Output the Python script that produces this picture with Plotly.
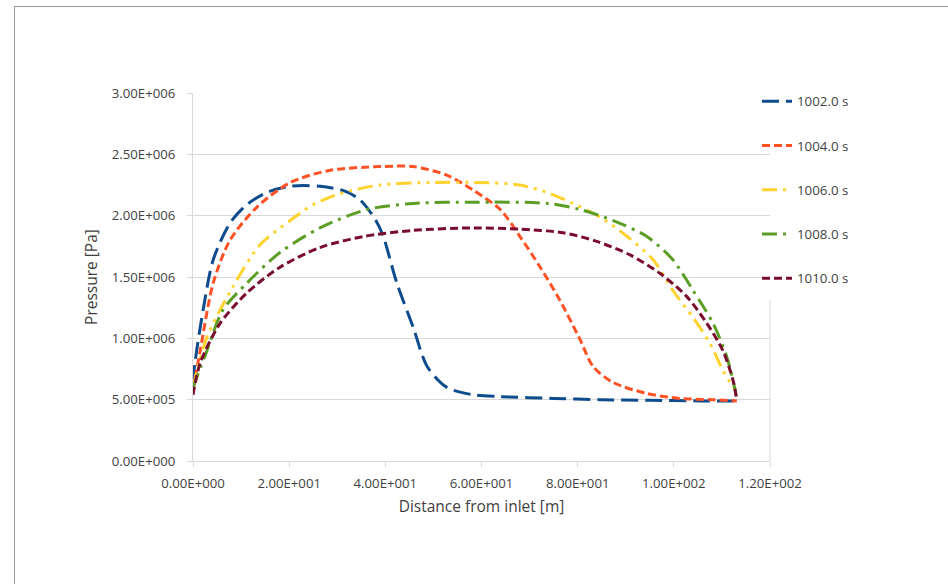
import plotly.graph_objects as go

# ---- data ----
series_names = ["1002.0 s", "1004.0 s", "1006.0 s", "1008.0 s", "1010.0 s"]

x_1002 = [0, 0.4, 2.1, 4.2, 7.7, 11.2, 15.4, 20.2, 26.4, 31.6, 34.7, 37.9, 39.5, 42.4, 45.8, 48.7, 52.8, 58.2, 63.9, 75, 84.7, 95, 105.4, 113.1]
y_1002 = [0.64e6, 0.80e6, 1.23e6, 1.64e6, 1.94e6, 2.09e6, 2.19e6, 2.24e6, 2.24e6, 2.20e6, 2.13e6, 1.97e6, 1.84e6, 1.45e6, 1.09e6, 0.77e6, 0.60e6, 0.54e6, 0.525e6, 0.51e6, 0.50e6, 0.495e6, 0.49e6, 0.49e6]

x_1004 = [0, 1.5, 4.2, 7.7, 13.3, 20.2, 28.5, 38.9, 45.8, 52.8, 58.2, 63.9, 68, 72.2, 76.3, 80.5, 83.2, 87.4, 94.4, 101.3, 108.2, 113.1]
y_1004 = [0.58e6, 0.90e6, 1.45e6, 1.80e6, 2.07e6, 2.27e6, 2.37e6, 2.40e6, 2.40e6, 2.33e6, 2.21e6, 2.05e6, 1.83e6, 1.58e6, 1.31e6, 0.99e6, 0.77e6, 0.64e6, 0.55e6, 0.51e6, 0.50e6, 0.49e6]

x_1006 = [0, 2.9, 8.3, 13.9, 20.2, 25, 30.6, 38.9, 49.3, 59.7, 68, 73.6, 79, 84.6, 90.3, 95.7, 99.8, 104, 107.5, 110.2, 111.7, 112.9]
y_1006 = [0.60e6, 1.01e6, 1.42e6, 1.76e6, 1.96e6, 2.09e6, 2.18e6, 2.25e6, 2.27e6, 2.27e6, 2.25e6, 2.19e6, 2.10e6, 1.99e6, 1.83e6, 1.64e6, 1.39e6, 1.17e6, 0.96e6, 0.74e6, 0.64e6, 0.58e6]

x_1008 = [0, 2.9, 6.2, 11.2, 18.1, 26.4, 36.2, 45.8, 58.2, 73.6, 80.5, 87.4, 94.4, 99.8, 104, 108.2, 111, 112.3, 113.1]
y_1008 = [0.60e6, 0.90e6, 1.23e6, 1.45e6, 1.70e6, 1.90e6, 2.05e6, 2.10e6, 2.11e6, 2.10e6, 2.05e6, 1.96e6, 1.83e6, 1.64e6, 1.39e6, 1.12e6, 0.85e6, 0.66e6, 0.50e6]

x_1010 = [0, 1.5, 5.6, 11.2, 18.1, 26.4, 35.4, 45.8, 58.2, 68, 77, 84, 90.9, 97.1, 102.7, 106.9, 110.2, 112.3, 113.1]
y_1010 = [0.54e6, 0.80e6, 1.12e6, 1.37e6, 1.58e6, 1.74e6, 1.83e6, 1.88e6, 1.90e6, 1.89e6, 1.86e6, 1.79e6, 1.68e6, 1.53e6, 1.34e6, 1.12e6, 0.90e6, 0.66e6, 0.50e6]

x_tick_vals = [0, 20, 40, 60, 80, 100, 120]
x_tick_text = ["0.00E+000", "2.00E+001", "4.00E+001", "6.00E+001", "8.00E+001", "1.00E+002", "1.20E+002"]
y_tick_vals = [0, 0.5e6, 1.0e6, 1.5e6, 2.0e6, 2.5e6, 3.0e6]
y_tick_text = ["0.00E+000", "5.00E+005", "1.00E+006", "1.50E+006", "2.00E+006", "2.50E+006", "3.00E+006"]

# ---- styles ----
colors = ["#0F4C8E", "#FF5124", "#FFD22E", "#5C9E25", "#7A0C2E"]
dashes = ["17px,7px", "8px,4px", "15px,6px,3px,6px,3px,6px", "15px,6px,3px,6px", "8px,4px"]
xs = [x_1002, x_1004, x_1006, x_1008, x_1010]
ys = [y_1002, y_1004, y_1006, y_1008, y_1010]

FONT = "Open Sans"
TXT = "#3F3F3F"

fig = go.Figure()
for name, x, y, c, d in zip(series_names, xs, ys, colors, dashes):
    fig.add_trace(go.Scatter(
        x=x, y=y, name=name, mode="lines", legendgroup=name,
        line=dict(color=c, width=3, dash=d, shape="spline", smoothing=0.8),
    ))

W, H = 948, 584
L, R, T, B = 193, 770, 93, 461
pw, ph = R - L, B - T

def px_x(p):
    return (p - L) / pw

def px_y(p):
    return (B - p) / ph

fig.update_layout(
    width=W, height=H,
    margin=dict(l=L, r=W - R, t=T, b=H - B),
    paper_bgcolor="white", plot_bgcolor="white",
    font=dict(family=FONT, size=13, color=TXT),
    showlegend=True,
    legend=dict(
        x=px_x(757), y=px_y(86), xanchor="left", yanchor="top",
        bgcolor="rgba(0,0,0,0)", tracegroupgap=24,
        font=dict(family=FONT, size=13.3, color=TXT),
        itemwidth=30,
    ),
    xaxis=dict(
        range=[0, 120], tickvals=x_tick_vals, ticktext=x_tick_text,
        showgrid=False, zeroline=False,
        showline=True, linecolor="#D9D9D9", linewidth=1,
        ticks="outside", ticklen=5, tickcolor="#D9D9D9",
        ticklabelstandoff=5,
        tickfont=dict(family=FONT, size=13.2, color=TXT),
        title=dict(text="Distance from inlet [m]", standoff=10,
                   font=dict(family=FONT, size=15.5, color=TXT)),
    ),
    yaxis=dict(
        range=[0, 3.0e6], tickvals=y_tick_vals, ticktext=y_tick_text,
        showgrid=True, gridcolor="#D9D9D9", gridwidth=1, zeroline=False,
        showline=True, linecolor="#D9D9D9", linewidth=1,
        ticks="outside", ticklen=5, tickcolor="#D9D9D9",
        ticklabelstandoff=9,
        tickfont=dict(family=FONT, size=13.2, color=TXT),
        title=dict(text="Pressure [Pa]", standoff=10,
                   font=dict(family=FONT, size=15.5, color=TXT)),
    ),
    shapes=[
        # white legend background hiding the gridlines on the right
        dict(type="rect", xref="paper", yref="paper",
             x0=px_x(723), x1=1.02, y0=px_y(300), y1=1.01,
             fillcolor="white", line=dict(width=0), layer="between"),
        # right plot border below the legend area
        dict(type="line", xref="paper", yref="paper",
             x0=1, x1=1, y0=0, y1=px_y(300),
             line=dict(color="#D9D9D9", width=1), layer="between"),
        # outer frame (top and left)
        dict(type="line", xref="paper", yref="paper",
             x0=px_x(14), x1=px_x(948), y0=px_y(6.5), y1=px_y(6.5),
             line=dict(color="#9A9A9A", width=1)),
        dict(type="line", xref="paper", yref="paper",
             x0=px_x(14.5), x1=px_x(14.5), y0=px_y(6), y1=px_y(584),
             line=dict(color="#9A9A9A", width=1)),
    ],
)

fig.write_html("out.html", config={"displayModeBar": False},
               post_script="document.body.style.margin='0';")
